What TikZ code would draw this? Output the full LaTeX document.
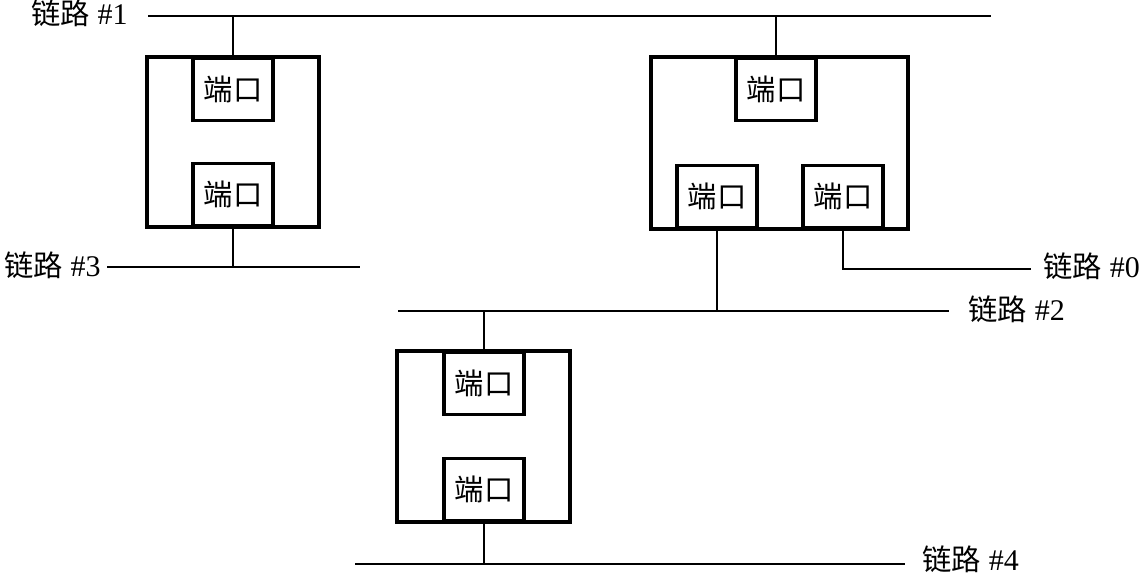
\documentclass[tikz,border=0pt]{standalone}
\usepackage{fontspec}
\setmainfont{Liberation Serif}
\newfontfamily\cjk{Noto Sans CJK SC}
\newcommand{\lk}[1]{{\cjk\fontsize{22}{26}\selectfont 链路}\hspace{6pt}\##1}
\newcommand{\pt}{{\cjk\fontsize{22}{26}\selectfont 端口}}
\begin{document}
\begin{tikzpicture}[x=0.75pt,y=-0.75pt,
  bridge/.style={draw,line width=2.4pt,rectangle,inner sep=0pt},
  port/.style={draw,line width=2.4pt,rectangle,fill=white,inner sep=0pt,
    minimum width=60pt,minimum height=46.5pt,font=\fontsize{20}{24}\selectfont},
  link/.style={line width=1.5pt},
  conn/.style={line width=1.1pt},
  lbl/.style={inner sep=0pt,font=\fontsize{22.5}{26}\selectfont}]
\useasboundingbox (0,0) rectangle (1142,575);
% bridges
\node[bridge,minimum width=129pt,minimum height=127.5pt] (b1) at (233,142) {};
\node[bridge,minimum width=192.75pt,minimum height=129pt] (b2) at (779.5,143) {};
\node[bridge,minimum width=129.75pt,minimum height=128.25pt] (b3) at (483.5,436.5) {};
% ports
\node[port,anchor=north] (p11) at (233,57) {\pt};
\node[port,anchor=south] (p12) at (233,227) {\pt};
\node[port,anchor=north] (p21) at (776,57) {\pt};
\node[port,anchor=south] (p22) at (717,229) {\pt};
\node[port,anchor=south] (p23) at (843,229) {\pt};
\node[port,anchor=north] (p31) at (484,351) {\pt};
\node[port,anchor=south] (p32) at (484,522) {\pt};
% link end points
\coordinate (L1s) at (148,16);  \coordinate (L1e) at (991,16);
\coordinate (L3s) at (107,267); \coordinate (L3e) at (360,267);
\coordinate (L0e) at (1031,269);
\coordinate (L2s) at (398,311); \coordinate (L2e) at (949,311);
\coordinate (L4s) at (355,564); \coordinate (L4e) at (905,564);
% links
\draw[link] (L1s) -- (L1e);
\draw[link] (L3s) -- (L3e);
\draw[link] (L2s) -- (L2e);
\draw[link] (L4s) -- (L4e);
% labels
\node[lbl,anchor=base east] (t1) at (128,24) {\lk{1}};
\node[lbl,anchor=base east] (t3) at (101,276) {\lk{3}};
\node[lbl,anchor=base west] (t0) at (1043,277) {\lk{0}};
\node[lbl,anchor=base west] (t2) at (968,320) {\lk{2}};
\node[lbl,anchor=base west] (t4) at (922,570) {\lk{4}};
% connectors
\draw[conn] (p11.north) -- (p11.north |- L1s);
\draw[conn] (p21.north) -- (p21.north |- L1s);
\draw[conn] (p12.south) -- (p12.south |- L3s);
\draw[conn] (p22.south) -- (p22.south |- L2s);
\draw[conn] (p23.south) -- (p23.south |- L0e) -- (L0e);
\draw[conn] (p31.north) -- (p31.north |- L2s);
\draw[conn] (p32.south) -- (p32.south |- L4s);
\end{tikzpicture}
\end{document}
